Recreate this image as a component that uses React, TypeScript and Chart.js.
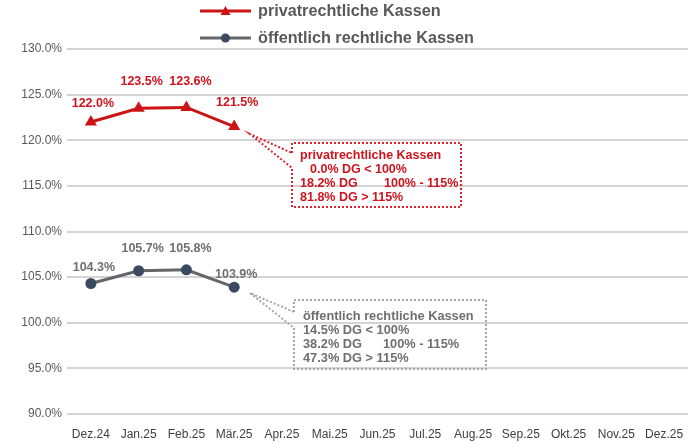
import React, { useEffect, useRef } from "react";
import { Chart, registerables } from "chart.js";

Chart.register(...registerables);

const categories = ["Dez.24", "Jan.25", "Feb.25", "Mär.25", "Apr.25", "Mai.25", "Jun.25", "Jul.25", "Aug.25", "Sep.25", "Okt.25", "Nov.25", "Dez.25"];
const privatValues: (number | null)[] = [122.0, 123.5, 123.6, 121.5, null, null, null, null, null, null, null, null, null];
const oeffentlichValues: (number | null)[] = [104.3, 105.7, 105.8, 103.9, null, null, null, null, null, null, null, null, null];
const seriesNames = ["privatrechtliche Kassen", "öffentlich rechtliche Kassen"];
const yMin = 90;
const yMax = 130;
const yStep = 5;

const privatBox = ["privatrechtliche Kassen", "0.0% DG < 100%", "18.2% DG|100% - 115%", "81.8% DG > 115%"];
const oeffBox = ["öffentlich rechtliche Kassen", "14.5% DG < 100%", "38.2% DG|100% - 115%", "47.3% DG > 115%"];

const RED = "#cc1414";
const RED_TEXT = "#d0141e";
const GRAY = "#63666a";
const GRAY_MARK = "#3b4a5e";
const GRAY_TEXT = "#6f6f6f";
const FONT = "'Liberation Sans', Arial, sans-serif";

const labelOffsets = [
  [[2, -18], [3, -27], [4, -26], [3, -24]],
  [[3, -16], [4, -22], [4, -21], [2, -13]],
];

const overlayPlugin = {
  id: "overlay",
  afterDatasetsDraw(chart: any) {
    const ctx = chart.ctx;
    ctx.save();
    chart.data.datasets.forEach((ds: any, di: number) => {
      const meta = chart.getDatasetMeta(di);
      ctx.font = `bold 12.5px ${FONT}`;
      ctx.fillStyle = di === 0 ? RED_TEXT : GRAY_TEXT;
      ctx.textAlign = "center";
      ctx.textBaseline = "middle";
      meta.data.forEach((pt: any, i: number) => {
        const v = ds.data[i];
        if (v == null) return;
        const off = labelOffsets[di][i] || [0, -20];
        ctx.fillText(v.toFixed(1) + "%", pt.x + off[0], pt.y + off[1]);
      });
    });

    const drawBox = (
      lines: string[], color: string, textColor: string,
      x0: number, y0: number, x1: number, y1: number,
      px: number, py: number, j0: number, j1: number, tx: number, ty: number, secondX: number, indent: number, fs: number
    ) => {
      ctx.strokeStyle = color;
      ctx.lineWidth = 2;
      ctx.setLineDash([2, 2]);
      ctx.beginPath();
      ctx.moveTo(x0, j0);
      ctx.lineTo(x0, y0);
      ctx.lineTo(x1, y0);
      ctx.lineTo(x1, y1);
      ctx.lineTo(x0, y1);
      ctx.lineTo(x0, j1);
      ctx.lineTo(px, py);
      ctx.lineTo(x0, j0);
      ctx.stroke();
      ctx.setLineDash([]);
      ctx.fillStyle = textColor;
      ctx.font = `bold ${fs}px ${FONT}`;
      ctx.textAlign = "left";
      ctx.textBaseline = "middle";
      lines.forEach((ln, k) => {
        const y = ty + k * 14;
        const parts = ln.split("|");
        const x = k === 1 ? tx + indent : tx;
        ctx.fillText(parts[0], x, y);
        if (parts[1]) ctx.fillText(parts[1], secondX, y);
      });
    };
    drawBox(privatBox, "#d9262e", RED_TEXT, 292, 143, 461, 207, 250, 134, 153, 168, 300, 156, 384, 10, 12.5);
    drawBox(oeffBox, "#a6a6a6", GRAY_TEXT, 294, 300, 486, 369, 250, 293, 312, 328, 303, 316, 383, 0, 12.8);

    const legendItems = [
      { y: 11, color: RED, marker: "tri", text: seriesNames[0] },
      { y: 38, color: GRAY, marker: "circle", text: seriesNames[1] },
    ];
    legendItems.forEach((it) => {
      ctx.strokeStyle = it.color;
      ctx.lineWidth = 3;
      ctx.beginPath();
      ctx.moveTo(200, it.y);
      ctx.lineTo(251, it.y);
      ctx.stroke();
      if (it.marker === "tri") {
        ctx.fillStyle = RED;
        ctx.beginPath();
        ctx.moveTo(225.5, it.y - 5);
        ctx.lineTo(230.5, it.y + 4);
        ctx.lineTo(220.5, it.y + 4);
        ctx.closePath();
        ctx.fill();
      } else {
        ctx.fillStyle = GRAY_MARK;
        ctx.beginPath();
        ctx.arc(225.5, it.y, 4.5, 0, Math.PI * 2);
        ctx.fill();
      }
      ctx.fillStyle = "#595959";
      ctx.font = `bold 16.2px ${FONT}`;
      ctx.textAlign = "left";
      ctx.textBaseline = "middle";
      ctx.fillText(it.text, 258, it.y + 1);
    });
    ctx.restore();
  },
};

const CANVAS_W = 695;

export default function App() {
  const ref = useRef<HTMLCanvasElement>(null);
  useEffect(() => {
    document.body.style.margin = "0";
    const chart = new Chart(ref.current as HTMLCanvasElement, {
      type: "line",
      data: {
        labels: categories,
        datasets: [
          {
            label: seriesNames[0],
            data: privatValues,
            borderColor: RED,
            backgroundColor: RED,
            borderWidth: 3,
            pointStyle: "triangle",
            pointRadius: 7,
            pointBorderWidth: 0,
            pointBackgroundColor: RED,
            tension: 0,
          },
          {
            label: seriesNames[1],
            data: oeffentlichValues,
            borderColor: GRAY,
            backgroundColor: GRAY_MARK,
            borderWidth: 3,
            pointStyle: "circle",
            pointRadius: 5.5,
            pointBorderWidth: 0,
            pointBackgroundColor: GRAY_MARK,
            tension: 0,
          },
        ],
      },
      options: {
        responsive: false,
        animation: false,
        layout: { padding: { top: 49, right: 0, left: 0, bottom: 0 } },
        plugins: { legend: { display: false }, tooltip: { enabled: false } },
        scales: {
          x: {
            offset: true,
            grid: { display: false, drawTicks: false },
            border: { display: false },
            ticks: { color: "#404040", font: { family: FONT, size: 12 }, padding: 13, maxRotation: 0, autoSkip: false },
            afterFit: (s: any) => { s.height = 29; s.paddingLeft = 0; s.paddingRight = 0; },
          },
          y: {
            min: yMin,
            max: yMax,
            grid: { color: "#d4d4d4", lineWidth: 2, drawTicks: false },
            border: { display: false },
            ticks: {
              stepSize: yStep,
              color: "#595959",
              font: { family: FONT, size: 12 },
              padding: 5,
              callback: (v: any) => Number(v).toFixed(1) + "%",
            },
            afterFit: (s: any) => { s.width = 67; s.paddingTop = 0; s.paddingBottom = 0; },
          },
        },
      },
      plugins: [overlayPlugin],
    });
    return () => chart.destroy();
  }, []);
  return (
    <div style={{ width: 688, height: 443, overflow: "hidden" }}>
      <canvas ref={ref} width={CANVAS_W} height={443} style={{ display: "block" }} />
    </div>
  );
}
